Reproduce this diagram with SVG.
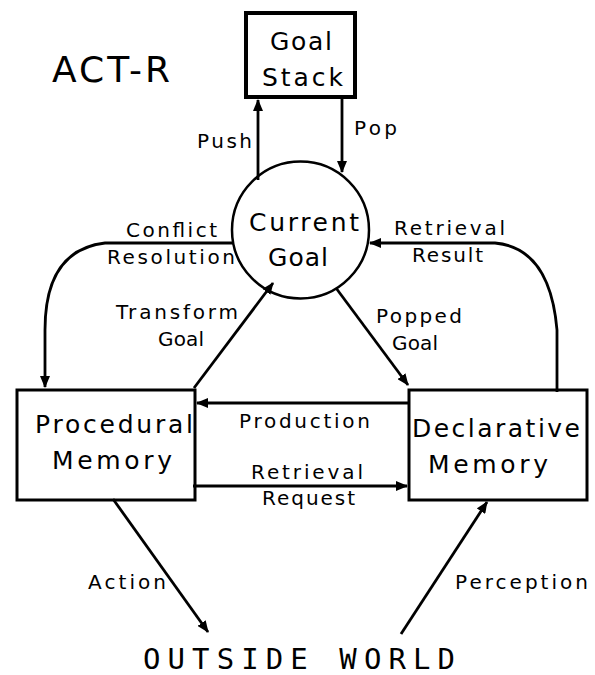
<svg xmlns="http://www.w3.org/2000/svg" width="595" height="675" viewBox="0 0 595 675">
<defs>
<style>
.box{fill:#fff;stroke:#000;stroke-width:3}
.ln{fill:none;stroke:#000;stroke-width:2.8}
.nt{font-family:"DejaVu Sans",sans-serif;font-size:25px;fill:#000}
.lb{font-family:"DejaVu Sans",sans-serif;font-size:20px;fill:#000}
</style>
<marker id="ah" viewBox="0 0 12 10" refX="11" refY="5" markerWidth="12" markerHeight="10" orient="auto" markerUnits="userSpaceOnUse">
<path d="M0,0 L12,5 L0,10 z" fill="#000"/>
</marker>
</defs>
<rect width="595" height="675" fill="#fff"/>
<text x="52" y="82" font-family="DejaVu Sans,sans-serif" font-size="36" textLength="118" lengthAdjust="spacing">ACT-R</text>
<g id="goal-stack">
<rect x="246" y="13" width="109" height="84" fill="#fff" stroke="#000" stroke-width="4"/>
<text class="nt" x="270" y="50" textLength="62" lengthAdjust="spacing">Goal</text>
<text class="nt" x="262" y="86" textLength="81" lengthAdjust="spacing">Stack</text>
</g>
<g id="current-goal">
<circle cx="300.5" cy="230" r="68.5" fill="#fff" stroke="#000" stroke-width="2.5"/>
<text class="nt" x="249" y="231" textLength="110" lengthAdjust="spacing">Current</text>
<text class="nt" x="268" y="266" textLength="60" lengthAdjust="spacing">Goal</text>
</g>
<g id="procedural-memory">
<rect class="box" x="17" y="390" width="178" height="110"/>
<text class="nt" x="35" y="433" font-size="27" textLength="158" lengthAdjust="spacing">Procedural</text>
<text class="nt" x="52" y="469" font-size="27" textLength="120" lengthAdjust="spacing">Memory</text>
</g>
<g id="declarative-memory">
<rect class="box" x="409" y="390" width="178" height="110"/>
<text class="nt" x="412" y="437" font-size="27" textLength="168" lengthAdjust="spacing">Declarative</text>
<text class="nt" x="428" y="473" font-size="27" textLength="120" lengthAdjust="spacing">Memory</text>
</g>
<g id="outside-world">
<text x="143" y="669" font-family="DejaVu Sans Mono,monospace" font-size="29" textLength="312" lengthAdjust="spacing">OUTSIDE WORLD</text>
</g>
<g id="connectors">
<line class="ln" x1="258" y1="180" x2="258" y2="100" marker-end="url(#ah)"/>
<line class="ln" x1="342" y1="95" x2="342" y2="172" marker-end="url(#ah)"/>
<path class="ln" d="M233 243 L105 243 Q45 250 45 330 L45 387" marker-end="url(#ah)"/>
<path class="ln" d="M557 392 L557 330 Q550 248 495 243 L370 243" marker-end="url(#ah)"/>
<line class="ln" x1="194" y1="388" x2="273" y2="283" marker-end="url(#ah)"/>
<line class="ln" x1="336" y1="288" x2="408" y2="385" marker-end="url(#ah)"/>
<line class="ln" x1="410" y1="403" x2="197" y2="403" marker-end="url(#ah)"/>
<line class="ln" x1="193" y1="486" x2="407" y2="486" marker-end="url(#ah)"/>
<line class="ln" x1="113" y1="499" x2="208" y2="632" marker-end="url(#ah)"/>
<line class="ln" x1="401" y1="634" x2="487" y2="502" marker-end="url(#ah)"/>
<text class="lb" x="197" y="148" textLength="55" lengthAdjust="spacing">Push</text>
<text class="lb" x="354" y="135" textLength="43" lengthAdjust="spacing">Pop</text>
<text class="lb" x="126" y="237" textLength="91" lengthAdjust="spacing">Conflict</text>
<text class="lb" x="107" y="264" textLength="128" lengthAdjust="spacing">Resolution</text>
<text class="lb" x="394" y="235" textLength="111" lengthAdjust="spacing">Retrieval</text>
<text class="lb" x="412" y="262" textLength="71" lengthAdjust="spacing">Result</text>
<text class="lb" x="116" y="319" textLength="122" lengthAdjust="spacing">Transform</text>
<text class="lb" x="158" y="346" textLength="46" lengthAdjust="spacing">Goal</text>
<text class="lb" x="376" y="323" textLength="86" lengthAdjust="spacing">Popped</text>
<text class="lb" x="392" y="350" textLength="46" lengthAdjust="spacing">Goal</text>
<text class="lb" x="239" y="428" textLength="131" lengthAdjust="spacing">Production</text>
<text class="lb" x="251" y="479" textLength="112" lengthAdjust="spacing">Retrieval</text>
<text class="lb" x="262" y="505" textLength="93" lengthAdjust="spacing">Request</text>
<text class="lb" x="88" y="589" textLength="78" lengthAdjust="spacing">Action</text>
<text class="lb" x="455" y="589" textLength="133" lengthAdjust="spacing">Perception</text>
</g>
</svg>
